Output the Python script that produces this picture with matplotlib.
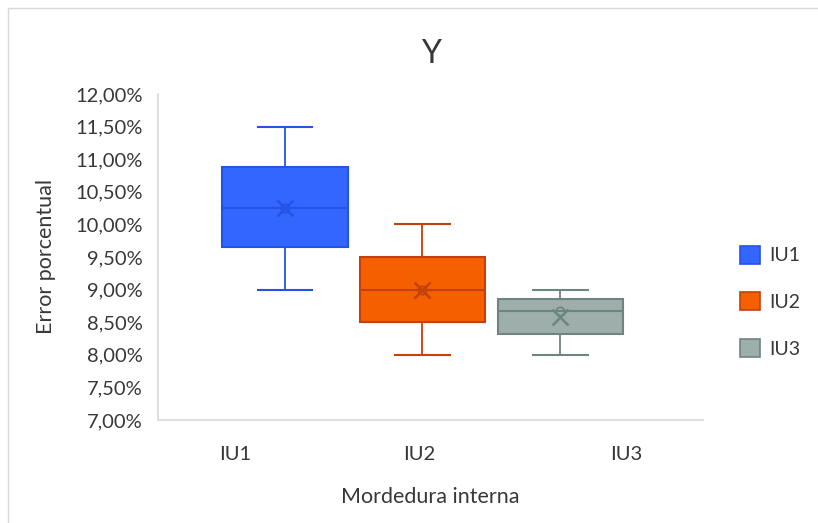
import matplotlib
matplotlib.use("Agg")
import matplotlib.pyplot as plt
import matplotlib.ticker as ticker
from matplotlib.patches import Patch, Rectangle

plt.rcParams['font.family'] = ['Lato', 'DejaVu Sans']

# box statistics per group (percent)
groups = ["IU1", "IU2", "IU3"]
whis_low = [9.00, 8.00, 8.00]
q1 = [9.65, 8.50, 8.32]
medians = [10.25, 9.00, 8.67]
q3 = [10.88, 9.50, 8.85]
whis_high = [11.50, 10.00, 9.00]
means = [10.25, 9.00, 8.58]
points = [10.25, 9.00, 8.67]

tick_labels = ["IU1", "IU2", "IU3"]
yticks = [7.0, 7.5, 8.0, 8.5, 9.0, 9.5, 10.0, 10.5, 11.0, 11.5, 12.0]

fills = ["#3366ff", "#f55f00", "#9eaeaa"]
edges = ["#2255e6", "#c2410c", "#6e8480"]

box_pos = [1.40, 2.91, 4.43]
label_pos = [0.85, 2.88, 5.15]

txt = "#383838"

fig = plt.figure(figsize=(8.18, 5.23), dpi=100)
fig.patches.append(Rectangle((8 / 818, -0.1), 1.2, 1 - 8 / 523 + 0.1,
                             transform=fig.transFigure, fill=False,
                             edgecolor="#d9d9d9", linewidth=1.0))

ax = fig.add_axes([158 / 818, (523 - 420) / 523, 545 / 818, 326 / 523])

stats = []
for i, g in enumerate(groups):
    stats.append(dict(label=g, whislo=whis_low[i], q1=q1[i], med=medians[i],
                      q3=q3[i], whishi=whis_high[i], mean=means[i], fliers=[]))

for i, st in enumerate(stats):
    ax.bxp([st], positions=[box_pos[i]], widths=1.38, patch_artist=True,
           showmeans=False, showfliers=False,
           boxprops=dict(facecolor=fills[i], edgecolor=edges[i], linewidth=1.5),
           medianprops=dict(color=edges[i], linewidth=1.5),
           whiskerprops=dict(color=edges[i], linewidth=1.3),
           capprops=dict(color=edges[i], linewidth=1.5),
           capwidths=0.6, manage_ticks=False)
    ax.plot(box_pos[i], points[i], marker="o", markersize=6, markerfacecolor="none",
            markeredgecolor=edges[i], markeredgewidth=1.2, zorder=4)
    ax.plot(box_pos[i], means[i], marker="x", markersize=11,
            color=edges[i], markeredgewidth=1.8, zorder=5)

ax.set_xlim(0, 6)
ax.set_ylim(7, 12)
ax.set_yticks(yticks)
ax.yaxis.set_major_formatter(ticker.FuncFormatter(
    lambda v, p: ("%.2f%%" % v).replace(".", ",")))
ax.set_xticks(label_pos)
ax.set_xticklabels(tick_labels)
ax.tick_params(length=0, labelsize=14.5, colors=txt)
ax.tick_params(axis="x", pad=19)
ax.tick_params(axis="y", pad=11)

for s in ["top", "right"]:
    ax.spines[s].set_visible(False)
for s in ["left", "bottom"]:
    ax.spines[s].set_color("#d9d9d9")
    ax.spines[s].set_linewidth(1.2)

ax.set_title("Y", fontsize=23, color=txt, pad=22)
ax.set_ylabel("Error porcentual", fontsize=15.5, color=txt, labelpad=14)
ax.set_xlabel("Mordedura interna", fontsize=15.5, color=txt, labelpad=17)

handles = [Patch(facecolor=fills[i], edgecolor=edges[i], linewidth=1.2, label=g)
           for i, g in enumerate(groups)]
fig.legend(handles=handles, loc="upper left", bbox_to_anchor=(722 / 818, 1 - 228 / 523),
           frameon=False, fontsize=14, labelspacing=1.45, handlelength=1.05,
           handleheight=1.05, handletextpad=0.5, labelcolor=txt)

fig.savefig("out.png", dpi=100)
